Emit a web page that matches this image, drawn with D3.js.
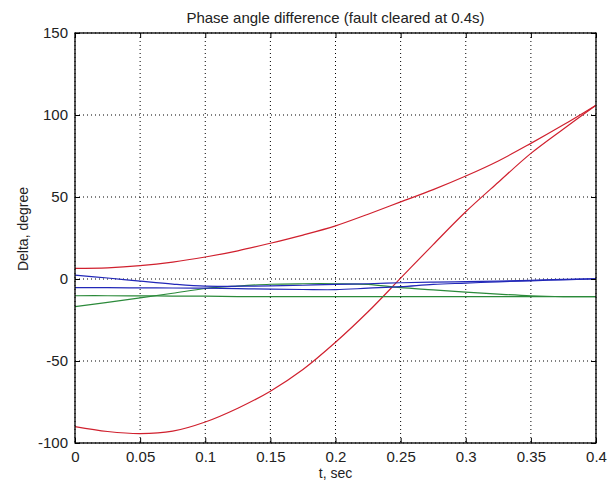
<!DOCTYPE html>
<html>
<head>
<meta charset="utf-8">
<script src="https://cdn.jsdelivr.net/npm/d3@7"></script>
<style>
body { margin: 0; background: #fff; }
text { font-family: "Liberation Sans", Arial, sans-serif; fill: #222; }
</style>
</head>
<body>
<div id="chart"></div>
<script>
// time samples, sec
const time = [0, 0.025, 0.05, 0.075, 0.1, 0.125, 0.15, 0.175, 0.2, 0.225, 0.25, 0.275, 0.3, 0.325, 0.35, 0.375, 0.4];

// phase angle differences, degree
const redUpper = [6.5, 6.8, 8.1, 10.3, 13.4, 17.2, 21.8, 26.8, 32.4, 39.5, 47, 54.5, 62.8, 72, 82.7, 94, 106];
const redLower = [-90, -93, -94.3, -92.8, -87.2, -78.8, -68.4, -55.2, -38.6, -20, 0.5, 21, 41, 59, 76.6, 91.5, 106];
const blueUpper = [2.4, 0.6, -1.3, -3.1, -4.4, -4.4, -4.2, -3.8, -3.3, -2.9, -2.3, -1.9, -1.6, -1.3, -0.8, -0.2, 0.2];
const blueLower = [-5.3, -5.3, -5.4, -5.5, -5.6, -5.9, -6.2, -6.4, -6.5, -5.6, -4.7, -3.3, -2.5, -1.7, -1.1, -0.5, 0];
const greenUpper = [-16.9, -14.2, -11.5, -8.7, -5.8, -4.3, -3.2, -2.9, -2.9, -3.3, -5.3, -6.6, -8.0, -9.2, -10.2, -10.7, -10.8];
const greenLower = [-10.2, -10.2, -10.3, -10.4, -10.5, -10.7, -10.7, -10.8, -10.8, -10.8, -10.8, -10.8, -10.8, -10.8, -10.8, -10.8, -10.8];

const xTicks = [0, 0.05, 0.1, 0.15, 0.2, 0.25, 0.3, 0.35, 0.4];
const yTicks = [-100, -50, 0, 50, 100, 150];

const series = [
    { values: redUpper, color: "#d0202e" },
    { values: redLower, color: "#d0202e" },
    { values: greenUpper, color: "#2b8a3a" },
    { values: greenLower, color: "#2b8a3a" },
    { values: blueLower, color: "#2228b8" },
    { values: blueUpper, color: "#2228b8" }
];

const margin = { top: 33, right: 20, bottom: 41, left: 75 };
const width = 616 - margin.left - margin.right;
const height = 484 - margin.top - margin.bottom;

const svg = d3.select("#chart")
    .append("svg")
    .attr("width", 616)
    .attr("height", 484)
    .append("g")
    .attr("transform", `translate(${margin.left},${margin.top})`);

const x = d3.scaleLinear().domain([0, 0.4]).range([0, width]);
const y = d3.scaleLinear().domain([-100, 150]).range([height, 0]);

// dotted grid
svg.selectAll(".vgrid")
    .data(xTicks)
    .join("line")
    .attr("x1", d => x(d)).attr("x2", d => x(d))
    .attr("y1", 0).attr("y2", height)
    .attr("stroke", "#000")
    .attr("stroke-width", 1)
    .attr("stroke-dasharray", "1,3");

svg.selectAll(".hgrid")
    .data(yTicks)
    .join("line")
    .attr("x1", 0).attr("x2", width)
    .attr("y1", d => y(d)).attr("y2", d => y(d))
    .attr("stroke", "#000")
    .attr("stroke-width", 1)
    .attr("stroke-dasharray", "1,3");

// curves
const line = d3.line()
    .x((d, i) => x(time[i]))
    .y(d => y(d))
    .curve(d3.curveCatmullRom.alpha(0.5));

svg.selectAll(".curve")
    .data(series)
    .join("path")
    .attr("fill", "none")
    .attr("stroke", d => d.color)
    .attr("stroke-width", 1.2)
    .attr("d", d => line(d.values));

// axes, ticks pointing inward like matlab
const fmt = d => String(d);

svg.append("g")
    .attr("transform", `translate(0,${height})`)
    .call(d3.axisBottom(x).tickValues(xTicks).tickFormat(fmt).tickSizeInner(-5).tickSizeOuter(0).tickPadding(8));

svg.append("g")
    .call(d3.axisLeft(y).tickValues(yTicks).tickFormat(fmt).tickSizeInner(-5).tickSizeOuter(0).tickPadding(7));

svg.append("g")
    .call(d3.axisTop(x).tickValues(xTicks).tickFormat("").tickSizeInner(-5).tickSizeOuter(0));

svg.append("g")
    .attr("transform", `translate(${width},0)`)
    .call(d3.axisRight(y).tickValues(yTicks).tickFormat("").tickSizeInner(-5).tickSizeOuter(0));

svg.selectAll(".domain").remove();
svg.selectAll(".tick line").attr("stroke", "#000");
svg.selectAll(".tick text")
    .style("font-size", "15px")
    .attr("fill", "#222");

svg.append("rect")
    .attr("width", width)
    .attr("height", height)
    .attr("fill", "none")
    .attr("stroke", "#000")
    .attr("stroke-width", 1.3);

// labels
svg.append("text")
    .attr("x", width / 2)
    .attr("y", -10)
    .attr("text-anchor", "middle")
    .style("font-size", "15px")
    .text("Phase angle difference (fault cleared at 0.4s)");

svg.append("text")
    .attr("x", width / 2)
    .attr("y", height + 35)
    .attr("text-anchor", "middle")
    .style("font-size", "14px")
    .text("t, sec");

svg.append("text")
    .attr("transform", `translate(${28 - margin.left},${229 - margin.top}) rotate(-90)`)
    .attr("text-anchor", "middle")
    .style("font-size", "14px")
    .text("Delta, degree");
</script>
</body>
</html>
